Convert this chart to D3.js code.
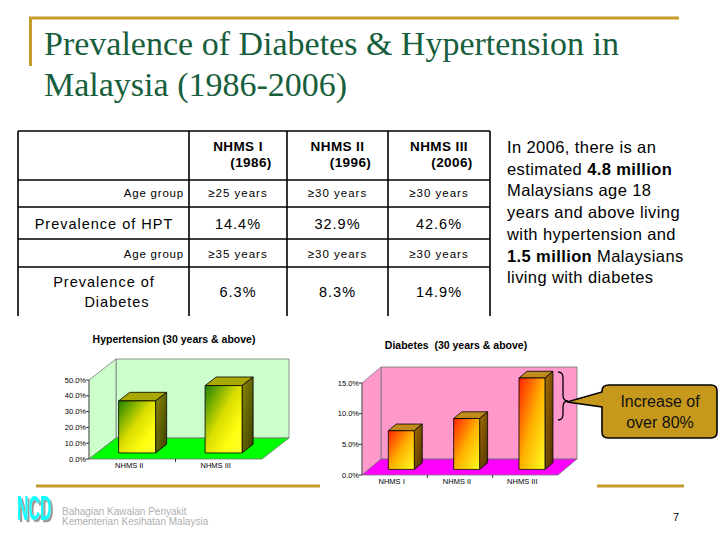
<!DOCTYPE html>
<html>
<head>
<meta charset="utf-8">
<script src="https://cdn.jsdelivr.net/npm/d3@7"></script>
<style>
  body { margin: 0; background: #fff; }
  svg { font-family: "Liberation Sans", Arial, sans-serif; }
</style>
</head>
<body>
<script>
// survey data
var surveys = ["NHMS I", "NHMS II", "NHMS III"];
var surveyYears = ["(1986)", "(1996)", "(2006)"];
var hptAge = ["\u226525 years", "\u226530 years", "\u226530 years"];
var hptPrev = [14.4, 32.9, 42.6];
var dmAge = ["\u226535 years", "\u226530 years", "\u226530 years"];
var dmPrev = [6.3, 8.3, 14.9];

// small charts
var hptCats = ["NHMS II", "NHMS III"];
var hptVals = [32.9, 42.6];
var hptTicks = [0, 10, 20, 30, 40, 50];
var dmCats = ["NHMS I", "NHMS II", "NHMS III"];
var dmVals = [6.3, 8.3, 14.9];
var dmTicks = [0, 5, 10, 15];

var svg = d3.select("body").append("svg")
    .attr("width", 720)
    .attr("height", 540);

var defs = svg.append("defs");
function grad(id, stops, x2, y2) {
  var g = defs.append("linearGradient").attr("id", id)
      .attr("x1", 0).attr("y1", 0).attr("x2", x2).attr("y2", y2);
  stops.forEach(function(s) {
    g.append("stop").attr("offset", s[0]).attr("stop-color", s[1]);
  });
}
grad("gFront", [[0, "#1e8200"], [0.45, "#d8dc00"], [0.75, "#ffff10"], [1, "#ffff30"]], 1, 1);
grad("gSide", [[0, "#8a8a00"], [1, "#3c3c00"]], 1, 1);
grad("oFront", [[0, "#ff2000"], [0.5, "#ffb000"], [1, "#ffff20"]], 1, 1);
grad("oSide", [[0, "#a87000"], [1, "#4a3000"]], 1, 1);
var sh = defs.append("filter").attr("id", "shadow");
sh.append("feDropShadow").attr("dx", 2).attr("dy", 1).attr("stdDeviation", 0.3)
    .attr("flood-color", "#999");

// ---- title ----
var gold = "#c39a2b";
svg.append("line").attr("x1", 29).attr("x2", 679).attr("y1", 18).attr("y2", 18)
    .attr("stroke", gold).attr("stroke-width", 3);
svg.append("line").attr("x1", 30.5).attr("x2", 30.5).attr("y1", 17).attr("y2", 66)
    .attr("stroke", gold).attr("stroke-width", 3);
var title = svg.append("text")
    .style("font-family", "'Liberation Serif', 'Times New Roman', serif")
    .attr("font-size", 34).attr("fill", "#175e3c");
title.append("tspan").attr("x", 44).attr("y", 55).text("Prevalence of Diabetes & Hypertension in");
title.append("tspan").attr("x", 44).attr("y", 96).text("Malaysia (1986-2006)");

// ---- table ----
var colX = [18, 189, 287, 388, 490];
var rowY = [131, 180, 207, 239, 267, 316];
var tbl = svg.append("g");
colX.forEach(function(x) {
  tbl.append("line").attr("x1", x).attr("x2", x).attr("y1", rowY[0]).attr("y2", rowY[5])
      .attr("stroke", "#000").attr("stroke-width", 1.6);
});
rowY.slice(0, 5).forEach(function(y) {
  tbl.append("line").attr("x1", colX[0]).attr("x2", colX[4]).attr("y1", y).attr("y2", y)
      .attr("stroke", "#000").attr("stroke-width", 1.6);
});
function cx(i) { return (colX[i + 1] + colX[i + 2]) / 2; }
function cell(x, y, size, txt, anchor, ls, bold) {
  return tbl.append("text").attr("x", x).attr("y", y).attr("text-anchor", anchor || "middle")
      .attr("font-size", size).attr("letter-spacing", ls)
      .attr("font-weight", bold ? "bold" : "normal").text(txt);
}
surveys.forEach(function(s, i) {
  cell(cx(i), 151, 13.5, s, "middle", 0.4, true);
  cell(cx(i) + 13, 167, 13.5, surveyYears[i], "middle", 0.4, true);
  cell(cx(i), 197, 11.5, hptAge[i], "middle", 1);
  cell(cx(i), 229, 14.5, hptPrev[i].toFixed(1) + "%", "middle", 1);
  cell(cx(i), 258, 11.5, dmAge[i], "middle", 1);
  cell(cx(i), 297, 14.5, dmPrev[i].toFixed(1) + "%", "middle", 1);
});
cell(184, 197, 11.5, "Age group", "end", 0.8);
cell(184, 258, 11.5, "Age group", "end", 0.8);
cell(104, 229, 14.5, "Prevalence of HPT", "middle", 1);
cell(104, 287, 14.5, "Prevalence of", "middle", 1);
cell(117, 307, 14.5, "Diabetes", "middle", 1);

// ---- side note ----
var note = [
  [["In 2006, there is an", false]],
  [["estimated ", false], ["4.8 million", true]],
  [["Malaysians age 18", false]],
  [["years and above living", false]],
  [["with hypertension and", false]],
  [["1.5 million", true], [" Malaysians", false]],
  [["living with diabetes", false]]
];
note.forEach(function(line, i) {
  var t = svg.append("text").attr("x", 507).attr("y", 153 + i * 21.7)
      .attr("font-size", 16.5).attr("letter-spacing", 0.4);
  line.forEach(function(p) {
    t.append("tspan").attr("font-weight", p[1] ? "bold" : "normal")
        .style("white-space", "pre").text(p[0]);
  });
});

// ---- footer ----
svg.append("line").attr("x1", 36).attr("x2", 684).attr("y1", 486).attr("y2", 486)
    .attr("stroke", gold).attr("stroke-width", 3);
svg.append("text").attr("transform", "translate(17,520) scale(1,2.2)")
    .attr("font-size", 16).attr("font-weight", "bold").attr("fill", "#1ff")
    .attr("filter", "url(#shadow)").text("NCD");
svg.append("text").attr("x", 62).attr("y", 515).attr("font-size", 10).attr("fill", "#b0b0b0")
    .text("Bahagian Kawalan Penyakit");
svg.append("text").attr("x", 62).attr("y", 525).attr("font-size", 10).attr("fill", "#b0b0b0")
    .text("Kementerian Kesihatan Malaysia");
svg.append("text").attr("x", 673).attr("y", 521).attr("font-size", 11).text("7");

// ---- 3D bar charts ----
function chart3d(o) {
  var g = svg.append("g");
  g.append("rect").attr("x", o.bg[0]).attr("y", o.bg[1]).attr("width", o.bg[2]).attr("height", o.bg[3])
      .attr("fill", "#fff");
  var x = d3.scaleBand().domain(o.cats).range([o.x0, o.x1]);
  var y = d3.scaleLinear().domain([0, o.max]).range([o.yBase, o.yTop]);
  function P(px, py, d) { return [px + d * o.dx, py - d * o.dy]; }
  function poly(pts, fill) {
    return g.append("polygon").attr("points", pts.map(function(p) { return p.join(","); }).join(" "))
        .attr("fill", fill).attr("stroke", "#777").attr("stroke-width", 0.8);
  }
  var yT = y(o.max), yB = y(0);
  poly([P(o.x0, yT, 1), P(o.x1, yT, 1), P(o.x1, yB, 1), P(o.x0, yB, 1)], o.wall);
  poly([P(o.x0, yT, 0), P(o.x0, yT, 1), P(o.x0, yB, 1), P(o.x0, yB, 0)], o.wall);
  poly([P(o.x0, yB, 0), P(o.x1, yB, 0), P(o.x1, yB, 1), P(o.x0, yB, 1)], o.floor);

  // y axis
  o.ticks.forEach(function(t) {
    g.append("line").attr("x1", o.x0 - 3).attr("x2", o.x0).attr("y1", y(t)).attr("y2", y(t))
        .attr("stroke", "#000").attr("stroke-width", 0.8);
    g.append("text").attr("x", o.x0 - 3).attr("y", y(t) + 2.5).attr("text-anchor", "end")
        .attr("font-size", 7.5).text(t.toFixed(1) + "%");
  });
  g.append("line").attr("x1", o.x0).attr("x2", o.x0).attr("y1", yT).attr("y2", yB)
      .attr("stroke", "#555").attr("stroke-width", 0.8);
  // x axis
  o.cats.forEach(function(c, i) {
    if (i > 0) {
      g.append("line").attr("x1", x(c)).attr("x2", x(c)).attr("y1", yB).attr("y2", yB + 3)
          .attr("stroke", "#000").attr("stroke-width", 0.8);
    }
    g.append("text").attr("x", x(c) + x.bandwidth() / 2 - 3).attr("y", o.yBase + 9)
        .attr("text-anchor", "middle").attr("font-size", 7.5).text(c);
  });

  // bars
  o.vals.forEach(function(v, i) {
    var c = x(o.cats[i]) + x.bandwidth() / 2 + o.shift;
    var l = c - o.barW / 2, r = c + o.barW / 2, t = y(v);
    poly([P(l, t, o.d0), P(r, t, o.d0), P(r, t, o.d1), P(l, t, o.d1)], o.topFill).attr("stroke", "#000");
    poly([P(r, t, o.d0), P(r, t, o.d1), P(r, yB, o.d1), P(r, yB, o.d0)], o.sideFill).attr("stroke", "#000");
    poly([P(l, t, o.d0), P(r, t, o.d0), P(r, yB, o.d0), P(l, yB, o.d0)], o.frontFill).attr("stroke", "#000");
  });

  g.append("text").attr("x", o.titleX).attr("y", o.titleY).attr("text-anchor", "middle")
      .attr("font-size", 10.5).attr("font-weight", "bold").style("white-space", "pre").text(o.title);
  return g;
}

chart3d({
  bg: [40, 320, 276, 158],
  cats: hptCats, vals: hptVals, ticks: hptTicks, max: 50,
  x0: 89, x1: 262, yBase: 459, yTop: 380, dx: 27, dy: 21,
  d0: 0.29, d1: 0.7, barW: 37, shift: -3,
  wall: "#ccffcc", floor: "#00ff00",
  topFill: "#a8a800", sideFill: "url(#gSide)", frontFill: "url(#gFront)",
  title: "Hypertension (30 years & above)", titleX: 174, titleY: 343
});

chart3d({
  bg: [320, 328, 277, 160],
  cats: dmCats, vals: dmVals, ticks: dmTicks, max: 15,
  x0: 362, x1: 558, yBase: 475, yTop: 383, dx: 19, dy: 16,
  d0: 0.35, d1: 0.77, barW: 26, shift: 0,
  wall: "#ff99cc", floor: "#ff00ff",
  topFill: "#c08a1c", sideFill: "url(#oSide)", frontFill: "url(#oFront)",
  title: "Diabetes  (30 years & above)", titleX: 456, titleY: 349
});

// ---- brace + callout ----
svg.append("path")
    .attr("d", "M558,372 Q563,372 563,378 L563,395 Q563,401 568,401 Q563,401 563,407 L563,414 Q563,420 558,420")
    .attr("fill", "none").attr("stroke", "#000").attr("stroke-width", 1.3);
svg.append("path")
    .attr("d", "M609,385 H711 Q717,385 717,391 V432 Q717,438 711,438 H608 Q602,438 602,432 V407 L567,402 L602,392 V391 Q602,385 609,385 Z")
    .attr("fill", "#c6991c").attr("stroke", "#000").attr("stroke-width", 1.6);
svg.append("text").attr("x", 660).attr("y", 407).attr("text-anchor", "middle")
    .attr("font-size", 16).attr("fill", "#111").text("Increase of");
svg.append("text").attr("x", 660).attr("y", 428).attr("text-anchor", "middle")
    .attr("font-size", 16).attr("fill", "#111").text("over 80%");
</script>
</body>
</html>
